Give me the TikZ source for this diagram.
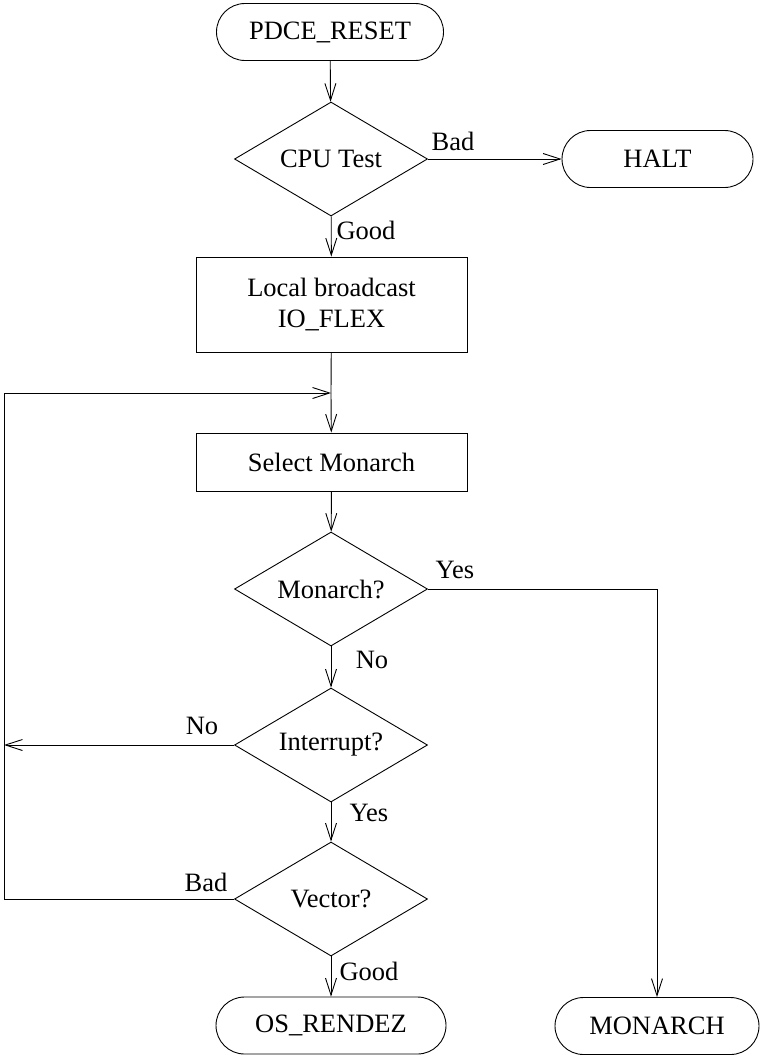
\documentclass[tikz,border=0pt]{standalone}
\usepackage{fontspec}
\setmainfont{Liberation Serif}
\usetikzlibrary{shapes.geometric,arrows.meta}
\begin{document}
\begin{tikzpicture}[x=1pt,y=-1pt,
  font=\fontsize{26.5}{31}\selectfont,
  line width=0.9pt,
  >={Straight Barb[length=17pt,width=11pt]},
  term/.style={draw,rectangle,rounded corners=28.5pt,minimum height=57pt,inner sep=0pt},
  proc/.style={draw,rectangle,minimum width=271pt,inner sep=0pt,align=center},
  decision/.style={draw,diamond,aspect=1.7,minimum width=193pt,minimum height=114pt,inner sep=0pt},
  lbl/.style={inner sep=0pt}]
\useasboundingbox (0,0) rectangle (761,1057);

\node[term,minimum width=227pt] (reset) at (330,32) {PDCE\_RESET};
\node[decision] (cpu) at (331,159) {CPU Test};
\node[term,minimum width=191pt] (halt) at (657.5,159) {HALT};
\node[proc,minimum height=95pt] (flex) at (331.5,304.5) {Local broadcast\\[0pt]IO\_FLEX};
\coordinate (loop) at (331,393);
\node[proc,minimum height=58pt] (select) at (331.5,462) {Select Monarch};
\node[decision] (mon) at (331,589) {Monarch?};
\node[decision] (intr) at (331,745) {Interrupt?};
\node[decision] (vec) at (331,899) {Vector?};
\node[term,minimum width=230pt] (osr) at (331,1025.5) {OS\_RENDEZ};
\node[term,minimum width=204pt] (monarch) at (657,1026) {MONARCH};
\coordinate (noend) at (4,745);
\coordinate (bl) at (4,899);
\coordinate (tl) at (4,393);

\draw[->] (reset) -- (cpu);
\draw[->] (cpu) -- (halt);
\draw[->] (cpu) -- (flex);
\draw (flex) -- (loop);
\draw[->] (loop) -- (select);
\draw[->] (select) -- (mon);
\draw[->] (mon.east) -| (monarch.north);
\draw[->] (mon) -- (intr);
\draw[->] (intr.west) -- (noend);
\draw[->] (intr) -- (vec);
\draw[->] (vec) -- (osr);
\draw[->] (vec.west) -- (bl) -- (tl) -- (loop);

\node[lbl] (l1) at (453,141) {Bad};
\node[lbl] (l2) at (366,230) {Good};
\node[lbl] (l3) at (455,570) {Yes};
\node[lbl] (l4) at (372,660) {No};
\node[lbl] (l5) at (202,726) {No};
\node[lbl] (l6) at (369,813) {Yes};
\node[lbl] (l7) at (206,882) {Bad};
\node[lbl] (l8) at (369,971) {Good};
\end{tikzpicture}
\end{document}
